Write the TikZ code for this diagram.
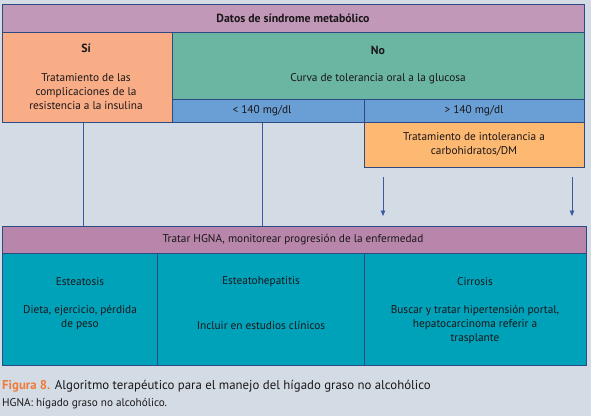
\documentclass[tikz,border=0pt]{standalone}
\usepackage{fontspec}
\setmainfont{PT Sans}
\usetikzlibrary{arrows.meta}
\definecolor{bg}{HTML}{D3DCE4}
\definecolor{purA}{HTML}{C298B8}
\definecolor{purB}{HTML}{B886AB}
\definecolor{salmon}{HTML}{F9AD87}
\definecolor{greenb}{HTML}{6BB5A3}
\definecolor{blueb}{HTML}{6A9FD6}
\definecolor{orangeb}{HTML}{FDB872}
\definecolor{tealb}{HTML}{00A2BA}
\definecolor{edge}{HTML}{2E4A84}
\definecolor{conn}{HTML}{3A5AA2}
\definecolor{txt}{HTML}{1A1718}
\definecolor{capor}{HTML}{F07A3A}
\tikzset{
  box/.style={rectangle, draw=edge, line width=0.8pt, inner sep=0pt, anchor=north west},
  lbl/.style={text=txt, font=\fontsize{11.3}{14}\selectfont, align=center, inner sep=0pt},
  blbl/.style={lbl, font=\fontsize{11.8}{14}\selectfont\bfseries},
  vline/.style={draw=conn, line width=0.9pt},
  arr/.style={draw=conn, line width=0.9pt, -{Triangle[width=4.5pt,length=5.5pt]}},
}
\begin{document}
\begin{tikzpicture}[x=1pt,y=-1pt]
\fill[bg] (0,0) rectangle (591,416);
\useasboundingbox (0,0) rectangle (591,416);
% boxes
\node[box, fill=purA, minimum width=582pt, minimum height=28.5pt] (top) at (1.5,3.5) {};
\node[box, fill=salmon, minimum width=170.5pt, minimum height=90pt] (si) at (1.5,32) {};
\node[box, fill=greenb, minimum width=411.5pt, minimum height=67pt] (no) at (172,32) {};
\node[box, fill=blueb, minimum width=192pt, minimum height=23pt] (lt) at (172,99) {};
\node[box, fill=blueb, minimum width=219.5pt, minimum height=23pt] (gt) at (364,99) {};
\node[box, fill=orangeb, minimum width=219.5pt, minimum height=45pt] (dm) at (364,122) {};
\node[box, fill=purB, minimum width=584.5pt, minimum height=27.5pt] (hgna) at (1.5,225.5) {};
\node[box, fill=tealb, minimum width=155.5pt, minimum height=112pt] (est) at (1.5,253) {};
\node[box, fill=tealb, minimum width=207pt, minimum height=112pt] (esh) at (157,253) {};
\node[box, fill=tealb, minimum width=222pt, minimum height=112pt] (cir) at (364,253) {};
% texts
\node[blbl] (t1) at (293,18) {Datos de síndrome metabólico};
\node[blbl] (t2) at (86,48) {Sí};
\node[lbl] (t3) at (86,92) {Tratamiento de las\\complicaciones de la\\resistencia a la insulina};
\node[blbl] (t4) at (378,50) {No};
\node[lbl] (t5) at (378,79) {Curva de tolerancia oral a la glucosa};
\node[lbl] (t6) at (262,111) {< 140 mg/dl};
\node[lbl] (t7) at (474,111) {> 140 mg/dl};
\node[lbl] (t8) at (474,144.5) {Tratamiento de intolerancia a\\carbohidratos/DM};
\node[lbl] (t9) at (293,240) {Tratar HGNA, monitorear progresión de la enfermedad};
\node[lbl] (t10) at (80,282) {Esteatosis};
\node[lbl] (t11) at (80,318) {Dieta, ejercicio, pérdida\\de peso};
\node[lbl] (t12) at (261,282) {Esteatohepatitis};
\node[lbl] (t13) at (261,325) {Incluir en estudios clínicos};
\node[lbl] (t14) at (475,282) {Cirrosis};
\node[lbl] (t15) at (475,325) {Buscar y tratar hipertensión portal,\\hepatocarcinoma referir a\\trasplante};
% connectors
\coordinate (c1) at (83,0);
\coordinate (c2) at (262,0);
\draw[vline] (si.south -| c1) -- (hgna.north -| c1);
\draw[vline] (lt.south -| c2) -- (hgna.north -| c2);
\coordinate (a1s) at (383,176.5);
\coordinate (a1e) at (383,216);
\coordinate (a2s) at (572,176.5);
\coordinate (a2e) at (572,216);
\draw[arr] (a1s) -- (a1e);
\draw[arr] (a2s) -- (a2e);
% caption
\node[anchor=base west, inner sep=0pt, text=txt, font=\fontsize{12.8}{14}\selectfont] (cap1) at (2,389) {{\color{capor}\bfseries Figura 8.} Algoritmo terapéutico para el manejo del hígado graso no alcohólico};
\node[anchor=base west, inner sep=0pt, text=txt, font=\fontsize{11.2}{12}\selectfont] (cap2) at (2,406) {HGNA: hígado graso no alcohólico.};
\end{tikzpicture}
\end{document}
